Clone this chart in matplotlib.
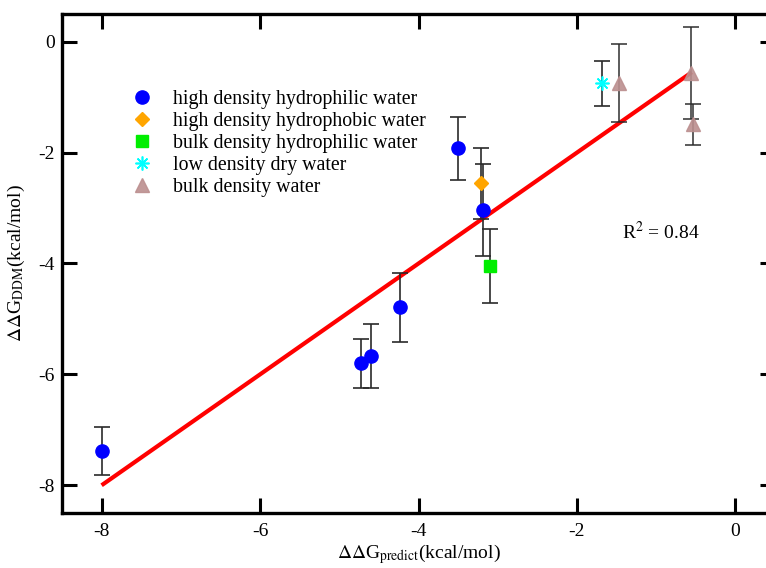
import matplotlib
matplotlib.use("Agg")
import matplotlib.pyplot as plt

plt.rcParams['font.family'] = ['Liberation Serif', 'DejaVu Serif']
plt.rcParams['mathtext.fontset'] = 'stix'

# ---- data ----
hd_phil_x = [-8.0, -4.72, -4.60, -4.23, -3.505, -3.19]
hd_phil_y = [-7.38, -5.80, -5.67, -4.79, -1.92, -3.04]
hd_phil_e = [0.435, 0.44, 0.57, 0.62, 0.57, 0.83]

hd_phob_x = [-3.21]
hd_phob_y = [-2.55]
hd_phob_e = [0.64]

bulk_phil_x = [-3.10]
bulk_phil_y = [-4.04]
bulk_phil_e = [0.665]

low_dry_x = [-1.68]
low_dry_y = [-0.75]
low_dry_e = [0.41]

bulk_x = [-1.47, -0.555, -0.535]
bulk_y = [-0.74, -0.57, -1.49]
bulk_e = [0.70, 0.83, 0.37]

fit_x = [-8.0, -0.55]
fit_y = [-8.0, -0.55]

labels = ["high density hydrophilic water", "high density hydrophobic water",
          "bulk density hydrophilic water", "low density dry water", "bulk density water"]

r2_text = r"R$^2$ = 0.84"
xticks = [-8, -6, -4, -2, 0]
yticks = [-8, -6, -4, -2, 0]

# ---- figure ----
fig = plt.figure(figsize=(7.66, 5.68), dpi=100)
ax = fig.add_axes([62/766, 55/568, 713/766, 499/568])

ax.plot(fit_x, fit_y, color='#ff0000', lw=3.0, solid_capstyle='butt', zorder=2)

ecol = '#2a2a2a'
ekw = dict(ecolor=ecol, elinewidth=1.2, capsize=6, capthick=1.2, linestyle='none')

ax.errorbar(hd_phil_x, hd_phil_y, yerr=hd_phil_e, marker='o', ms=9.5, mfc='#0000ff', mec='#0000ff',
            zorder=3, label=labels[0], **ekw)
ax.errorbar(hd_phob_x, hd_phob_y, yerr=hd_phob_e, marker='D', ms=7.5, mfc='#ffa500', mec='#ffa500',
            zorder=3, label=labels[1], **ekw)
ax.errorbar(bulk_phil_x, bulk_phil_y, yerr=bulk_phil_e, marker='s', ms=9, mfc='#00ee00', mec='#00ee00',
            zorder=3, label=labels[2], **ekw)
ax.errorbar(low_dry_x, low_dry_y, yerr=low_dry_e, marker=(8, 2, 0), ms=10, mfc='#00ffff', mec='#00ffff',
            mew=1.2, zorder=3, label=labels[3], **ekw)
ax.errorbar(bulk_x, bulk_y, yerr=bulk_e, marker='^', ms=10, mfc='#bc8f8f', mec='#bc8f8f', alpha=0.9,
            zorder=3, label=labels[4], **ekw)

ax.set_xlim(-8.5, 0.5)
ax.set_ylim(-8.5, 0.5)
ax.set_xticks(xticks)
ax.set_yticks(yticks)
ax.set_xticklabels([str(t) for t in xticks])
ax.set_yticklabels([str(t) for t in yticks])

for s in ax.spines.values():
    s.set_linewidth(2.4)
ax.tick_params(direction='in', length=11, width=2.2, top=True, right=True, labelsize=14)
ax.tick_params(axis='x', pad=7)
ax.tick_params(axis='y', pad=5)

ax.set_xlabel(r"$\Delta\Delta$G$_{\mathrm{predict}}$(kcal/mol)", fontsize=14, labelpad=2)
ax.set_ylabel(r"$\Delta\Delta$G$_{\mathrm{DDM}}$(kcal/mol)", fontsize=14, labelpad=8)

ax.text(-1.43, -3.44, r2_text, fontsize=14, ha='left', va='center')

handles, labs = ax.get_legend_handles_labels()
handles = [h[0] for h in handles]
leg = ax.legend(handles, labs, loc='upper left', bbox_to_anchor=(0.0996, 0.848), frameon=False,
                fontsize=14.3, handlelength=0.95, handletextpad=1.05, labelspacing=0.15,
                borderpad=0, borderaxespad=0)

fig.savefig('out.png', dpi=100)
